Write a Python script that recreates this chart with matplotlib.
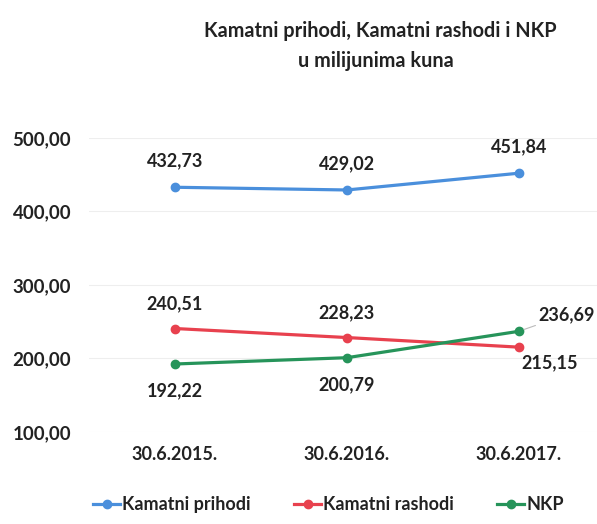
import matplotlib.pyplot as plt

plt.rcParams['font.family'] = ['Lato', 'DejaVu Sans']
plt.rcParams['font.weight'] = 'bold'

datumi = ["30.6.2015.", "30.6.2016.", "30.6.2017."]
prihodi = [432.73, 429.02, 451.84]
rashodi = [240.51, 228.23, 215.15]
nkp = [192.22, 200.79, 236.69]
y_ticks = [100, 200, 300, 400, 500]

fig = plt.figure(figsize=(5.97, 5.24), dpi=100)
ax = fig.add_axes([0.149, 0.176, 0.864, 0.561])

x = range(len(datumi))
ax.plot(x, prihodi, color="#4a8fdc", lw=2.3, marker="o", ms=6, label="Kamatni prihodi")
ax.plot(x, rashodi, color="#e8414e", lw=2.3, marker="o", ms=6, label="Kamatni rashodi")
ax.plot(x, nkp, color="#26945a", lw=2.3, marker="o", ms=6, label="NKP")

def fmt(v):
    return f"{v:.2f}".replace(".", ",")

for i, v in enumerate(prihodi):
    ax.annotate(fmt(v), (i, v), xytext=(0, 13), textcoords="offset points",
                ha="center", va="bottom", fontsize=13, color="#222222")
for i, v in enumerate(rashodi):
    if i < 2:
        ax.annotate(fmt(v), (i, v), xytext=(0, 12), textcoords="offset points",
                    ha="center", va="bottom", fontsize=13, color="#222222")
    else:
        ax.annotate(fmt(v), (i, v), xytext=(2, -11), textcoords="offset points",
                    ha="left", va="center", fontsize=13, color="#222222")
for i, v in enumerate(nkp):
    if i < 2:
        ax.annotate(fmt(v), (i, v), xytext=(0, -13), textcoords="offset points",
                    ha="center", va="top", fontsize=13, color="#222222")
    else:
        ax.annotate(fmt(v), (i, v), xytext=(14, 12), textcoords="offset points",
                    ha="left", va="center", fontsize=13, color="#222222",
                    arrowprops=dict(arrowstyle="-", color="#bbbbbb", lw=0.8,
                                    shrinkA=0, shrinkB=4))

ax.set_xlim(-0.5, 2.5)
ax.set_ylim(100, 500)
ax.set_yticks(y_ticks)
ax.set_yticklabels([fmt(v) for v in y_ticks], fontsize=13.5, color="#222222")
ax.set_xticks(list(x))
ax.set_xticklabels(datumi, fontsize=13, color="#222222")
ax.tick_params(axis="x", length=0, pad=10)
ax.tick_params(axis="y", length=0, pad=55)
for lbl in ax.get_yticklabels():
    lbl.set_horizontalalignment("left")
ax.grid(axis="y", color="#eeeeee", lw=0.8)
for s in ax.spines.values():
    s.set_visible(False)

fig.text(0.637, 0.93, "Kamatni prihodi, Kamatni rashodi i NKP", ha="center",
         fontsize=14.3, color="#222222")
fig.text(0.63, 0.872, "u milijunima kuna", ha="center", fontsize=14.3, color="#222222")

fig.legend(loc="lower center", bbox_to_anchor=(0.55, -0.01), ncol=3, frameon=False,
           fontsize=13, handlelength=1.5, handletextpad=0.1, columnspacing=2.4,
           labelcolor="#222222")

fig.savefig("out.png", dpi=100)
